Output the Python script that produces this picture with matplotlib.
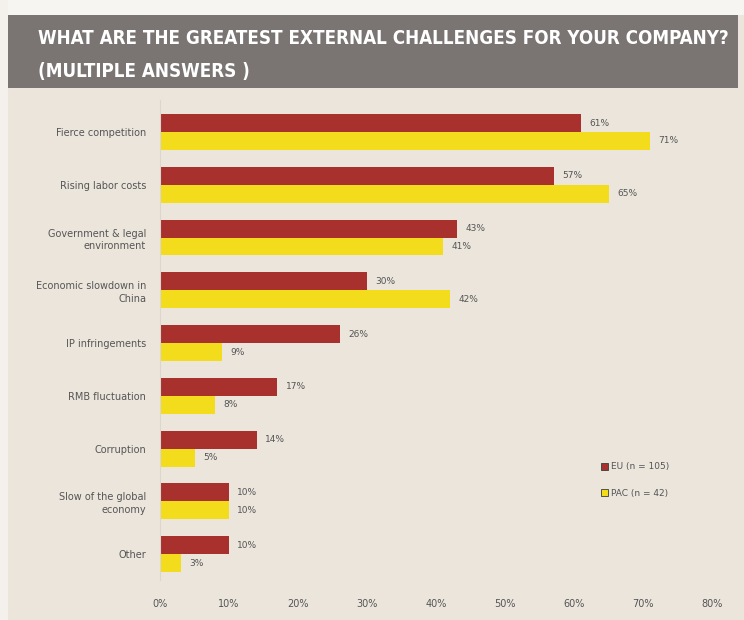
import matplotlib
matplotlib.use("Agg")
import matplotlib.pyplot as plt
from matplotlib.patches import Rectangle
from matplotlib import font_manager
import numpy as np

categories = [
    "Fierce competition",
    "Rising labor costs",
    "Government & legal\nenvironment",
    "Economic slowdown in\nChina",
    "IP infringements",
    "RMB fluctuation",
    "Corruption",
    "Slow of the global\neconomy",
    "Other",
]
eu_values = [61, 57, 43, 30, 26, 17, 14, 10, 10]
pac_values = [71, 65, 41, 42, 9, 8, 5, 10, 3]
series_names = ["EU (n = 105)", "PAC (n = 42)"]
xticks = [0, 10, 20, 30, 40, 50, 60, 70, 80]

RED = "#a8302d"
YELLOW = "#f3dc1c"
BG = "#ebe5dc"
TEXT = "#555555"

# pick a narrow face for the title if one is installed
narrow = None
for f in font_manager.fontManager.ttflist:
    n = f.name.lower()
    st = str(f.stretch).lower()
    if ("condensed" in n or "narrow" in n or "condensed" in st) and f.style == "normal":
        narrow = f
        break

W, H = 744, 620
fig = plt.figure(figsize=(W / 100, H / 100), dpi=100)
fig.patch.set_facecolor(BG)

# white frame at the top and the title band
fig.patches.append(Rectangle((0, (H - 15) / H), 1, 15 / H, transform=fig.transFigure,
                             facecolor="#f7f5f2", edgecolor="none", zorder=0))
fig.patches.append(Rectangle((0, 0), 8 / W, 1, transform=fig.transFigure,
                             facecolor="#f4f1ed", edgecolor="none", zorder=0))
fig.patches.append(Rectangle((8 / W, (H - 88) / H), 730 / W, 73 / H, transform=fig.transFigure,
                             facecolor="#7a7573", edgecolor="none", zorder=1))

if narrow is not None:
    tkw = dict(fontproperties=font_manager.FontProperties(fname=narrow.fname, size=15))
else:
    tkw = dict(family="DejaVu Sans", fontsize=11.2)
t1 = fig.text(38 / W, 1 - 39 / H, "WHAT ARE THE GREATEST EXTERNAL CHALLENGES FOR YOUR COMPANY?",
              color="white", va="center", ha="left", **tkw)
t2 = fig.text(38 / W, 1 - 71 / H, "(MULTIPLE ANSWERS )",
              color="white", va="center", ha="left", **tkw)

# shrink the title until it fits inside the band
fig.canvas.draw()
r = fig.canvas.get_renderer()
bb = t1.get_window_extent(r)
if bb.x1 > 730:
    scale = (730 - 38) / bb.width
    for t in (t1, t2):
        t.set_fontsize(t.get_fontsize() * scale)

# plot area
left, right = 160, 729
top, bottom = 100, 580
ax = fig.add_axes([left / W, (H - bottom) / H, (right - left) / W, (bottom - top) / H])
ax.set_facecolor("none")

y = np.arange(len(categories))
bh = 0.34
ax.barh(y - bh / 2, eu_values, height=bh, color=RED, label=series_names[0])
ax.barh(y + bh / 2, pac_values, height=bh, color=YELLOW, label=series_names[1])

for yi, v in zip(y, eu_values):
    ax.annotate(f"{v}%", (v, yi - bh / 2), xytext=(6, 0), textcoords="offset points",
                va="center", ha="left", fontsize=6.5, color=TEXT)
for yi, v in zip(y, pac_values):
    ax.annotate(f"{v}%", (v, yi + bh / 2), xytext=(6, 0), textcoords="offset points",
                va="center", ha="left", fontsize=6.5, color=TEXT)

ax.set_xlim(0, 82.4)
ax.set_ylim(8.49, -0.607)
ax.set_yticks(y)
ax.set_yticklabels(categories, fontsize=7, color=TEXT, linespacing=1.3)
ax.set_xticks(xticks)
ax.set_xticklabels([f"{t}%" for t in xticks], fontsize=7, color=TEXT)
ax.tick_params(axis="both", length=0)
ax.tick_params(axis="y", pad=10)
ax.tick_params(axis="x", pad=14)
for s in ["top", "right", "bottom"]:
    ax.spines[s].set_visible(False)
ax.spines["left"].set_color("#dcd6cf")
ax.spines["left"].set_linewidth(0.8)

leg = ax.legend(loc="upper left", bbox_to_anchor=(0.76, 0.262), frameon=False,
                fontsize=6.5, handlelength=0.8, handleheight=0.8, handletextpad=0.4,
                labelspacing=1.9, labelcolor=TEXT)
for h in leg.legend_handles:
    h.set_edgecolor("#3a3a3a")
    h.set_linewidth(0.6)

fig.savefig("out.png", dpi=100, facecolor=fig.get_facecolor())
